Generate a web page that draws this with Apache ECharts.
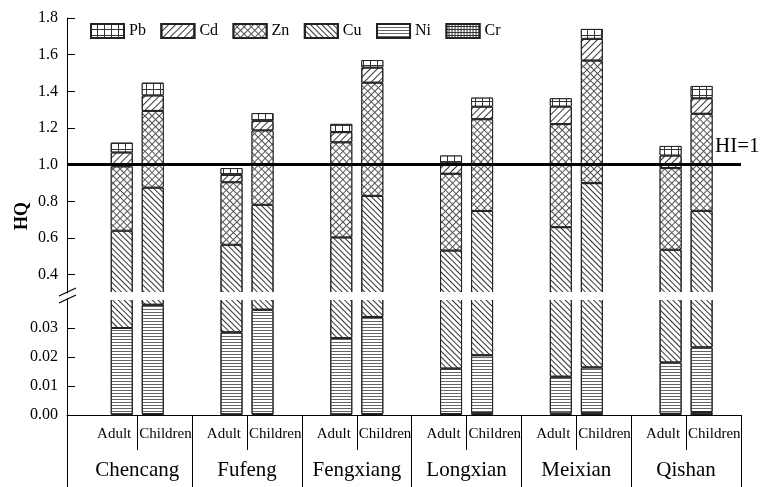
<!DOCTYPE html>
<html>
<head>
<meta charset="utf-8">
<script src="https://cdn.jsdelivr.net/npm/echarts@6/dist/echarts.min.js"></script>
<style>
  html, body { margin: 0; padding: 0; background: #fff; }
  #chart { width: 771px; height: 487px; }
</style>
</head>
<body>
<div id="chart"></div>
<script>
// Hazard quotients (HQ) of heavy metals by county and population group
const counties = ['Chencang', 'Fufeng', 'Fengxiang', 'Longxian', 'Meixian', 'Qishan'];
const groups = ['Adult', 'Children'];
const legendOrder = ['Pb', 'Cd', 'Zn', 'Cu', 'Ni', 'Cr'];
const stackOrder = ['Cr', 'Ni', 'Cu', 'Zn', 'Cd', 'Pb'];

const crAdult    = [0.0002, 0.0002, 0.0002, 0.0003, 0.0005, 0.0004];
const crChildren = [0.0003, 0.0003, 0.0003, 0.0006, 0.0006, 0.0010];
const niAdult    = [0.0298, 0.0283, 0.0263, 0.0157, 0.0127, 0.0177];
const niChildren = [0.0377, 0.0360, 0.0335, 0.0200, 0.0158, 0.0223];
const cuAdult    = [0.610, 0.535, 0.577, 0.516, 0.646, 0.518];
const cuChildren = [0.837, 0.745, 0.796, 0.727, 0.883, 0.725];
const znAdult    = [0.350, 0.340, 0.518, 0.418, 0.562, 0.445];
const znChildren = [0.418, 0.405, 0.617, 0.500, 0.668, 0.529];
const cdAdult    = [0.077, 0.041, 0.056, 0.058, 0.096, 0.069];
const cdChildren = [0.085, 0.053, 0.083, 0.069, 0.119, 0.085];
const pbAdult    = [0.053, 0.037, 0.045, 0.042, 0.045, 0.052];
const pbChildren = [0.069, 0.042, 0.041, 0.049, 0.054, 0.067];

// Broken value axis: upper part and lower part
const upperTicks = [0.4, 0.6, 0.8, 1.0, 1.2, 1.4, 1.6, 1.8];
const lowerTicks = [0.00, 0.01, 0.02, 0.03];
const HI = 1;

const values = {
  Adult:    { Cr: crAdult, Ni: niAdult, Cu: cuAdult, Zn: znAdult, Cd: cdAdult, Pb: pbAdult },
  Children: { Cr: crChildren, Ni: niChildren, Cu: cuChildren, Zn: znChildren, Cd: cdChildren, Pb: pbChildren }
};

const INK = '#222';
const FONT = '"Liberation Serif", "Times New Roman", serif';

// hatch patterns for each metal
const decals = {
  Pb: { symbol: 'rect', color: '#fff', backgroundColor: '#333', dashArrayX: [6, 1], dashArrayY: [5, 1], symbolSize: 1 },
  Cd: { symbol: 'rect', color: '#333', dashArrayX: [1, 0], dashArrayY: [1, 4], rotation: -Math.PI / 4, symbolSize: 1 },
  Zn: { symbol: 'rect', color: '#fff', backgroundColor: '#555', dashArrayX: [4, 1], dashArrayY: [4, 1], rotation: Math.PI / 4, symbolSize: 1 },
  Cu: { symbol: 'rect', color: '#333', dashArrayX: [1, 0], dashArrayY: [1, 3], rotation: Math.PI / 4, symbolSize: 1 },
  Ni: { symbol: 'rect', color: '#666', dashArrayX: [1, 0], dashArrayY: [1, 2], symbolSize: 1 },
  Cr: { symbol: 'rect', color: '#fff', backgroundColor: '#333', dashArrayX: [2, 1], dashArrayY: [2, 1], symbolSize: 1 }
};

const xMin = -0.64, xMax = 5.5;
const groupIdx = counties.map((c, i) => i);
const boundaries = counties.map((c, i) => i + 0.5);

function hiddenX(gridIndex) {
  return { type: 'value', gridIndex, min: xMin, max: xMax, show: false };
}

const series = [];
[0, 1].forEach(function (g) {
  groups.forEach(function (grp) {
    stackOrder.forEach(function (metal) {
      series.push({
        type: 'bar',
        name: metal,
        xAxisIndex: g,
        yAxisIndex: g,
        stack: g + '-' + grp,
        barWidth: 22,
        barGap: '41%',
        clip: true,
        // value first so that the stacked dimension is the HQ value
        dimensions: ['hq', 'county'],
        encode: { x: 1, y: 0 },
        itemStyle: { color: '#fff', borderColor: INK, borderWidth: 1, decal: decals[metal] },
        emphasis: { disabled: true },
        data: values[grp][metal].map((v, i) => [v, i])
      });
    });
  });
});
// HI = 1 reference line
series[0].markLine = {
  silent: true,
  symbol: ['none', 'none'],
  label: { show: false },
  lineStyle: { color: '#000', width: 3, type: 'solid' },
  data: [{ yAxis: HI }]
};

const option = {
  animation: false,
  backgroundColor: '#fff',
  textStyle: { fontFamily: FONT, color: '#000' },
  legend: {
    data: legendOrder,
    left: 90,
    top: 23,
    padding: 0,
    icon: 'rect',
    itemWidth: 33,
    itemHeight: 14,
    itemGap: 14.5,
    selectedMode: false,
    textStyle: { fontFamily: FONT, fontSize: 16, color: '#000' }
  },
  grid: [
    { left: 67, width: 674, top: 18, height: 275 },
    { left: 67, width: 674, top: 299, height: 116 },
    { left: 67, width: 674, top: 415, height: 72 }
  ],
  xAxis: [
    hiddenX(0),
    hiddenX(1),
    {
      type: 'value', gridIndex: 2, min: xMin, max: xMax, position: 'top',
      axisLine: { show: true, onZero: false, lineStyle: { color: '#000', width: 1 } },
      axisTick: { show: true, inside: true, length: 72, customValues: boundaries, lineStyle: { color: '#000' } },
      axisLabel: {
        show: true, inside: true, margin: 45, customValues: groupIdx,
        formatter: v => counties[Math.round(v)], fontFamily: FONT, fontSize: 21, color: '#000'
      },
      splitLine: { show: false }
    },
    {
      type: 'value', gridIndex: 2, min: xMin, max: xMax, position: 'top',
      axisLine: { show: false, onZero: false },
      axisTick: { show: true, inside: true, length: 35, customValues: groupIdx, lineStyle: { color: '#000' } },
      axisLabel: {
        show: true, inside: true, margin: 12, customValues: groupIdx, align: 'right',
        padding: [0, 6, 0, 0],
        formatter: () => groups[0], fontFamily: FONT, fontSize: 15, color: '#000'
      },
      splitLine: { show: false }
    },
    {
      type: 'value', gridIndex: 2, min: xMin, max: xMax, position: 'top',
      axisLine: { show: false, onZero: false },
      axisTick: { show: false },
      axisLabel: {
        show: true, inside: true, margin: 12, customValues: groupIdx, align: 'left',
        padding: [0, 0, 0, 2],
        formatter: () => groups[1], fontFamily: FONT, fontSize: 15, color: '#000'
      },
      splitLine: { show: false }
    }
  ],
  yAxis: [
    {
      type: 'value', gridIndex: 0, min: 0.3, max: 1.8,
      axisLine: { show: true, onZero: false, lineStyle: { color: '#000', width: 1 } },
      axisTick: { show: true, inside: true, length: 8, customValues: upperTicks, lineStyle: { color: '#000' } },
      axisLabel: { customValues: upperTicks, margin: 9, formatter: v => v.toFixed(1), fontFamily: FONT, fontSize: 16, color: '#000' },
      splitLine: { show: false }
    },
    {
      type: 'value', gridIndex: 1, min: 0, max: 0.04,
      axisLine: { show: true, onZero: false, lineStyle: { color: '#000', width: 1 } },
      axisTick: { show: true, inside: true, length: 8, customValues: lowerTicks, lineStyle: { color: '#000' } },
      axisLabel: { customValues: lowerTicks, margin: 9, formatter: v => v.toFixed(2), fontFamily: FONT, fontSize: 16, color: '#000' },
      splitLine: { show: false }
    },
    {
      type: 'value', gridIndex: 2, min: 0, max: 1,
      axisLine: { show: true, onZero: false, lineStyle: { color: '#000', width: 1 } },
      axisTick: { show: false },
      axisLabel: { show: false },
      splitLine: { show: false }
    }
  ],
  graphic: [
    {
      type: 'text', x: 22, y: 216, rotation: Math.PI / 2,
      style: { text: 'HQ', font: 'bold 18px ' + FONT, fill: '#000', textAlign: 'center', textVerticalAlign: 'middle' }
    },
    {
      type: 'text', x: 715, y: 136,
      style: { text: 'HI=' + HI, font: '21px ' + FONT, fill: '#000' }
    },
    // open gap of the axis break across the bars
    { type: 'rect', z: 100, shape: { x: 78, y: 292, width: 664, height: 8 }, style: { fill: '#fff' } },
    // axis break marks
    { type: 'line', z: 101, shape: { x1: 59, y1: 296, x2: 76, y2: 288 }, style: { stroke: '#000', lineWidth: 1.2 } },
    { type: 'line', z: 101, shape: { x1: 59, y1: 303, x2: 76, y2: 295 }, style: { stroke: '#000', lineWidth: 1.2 } }
  ],
  series: series
};

const chart = echarts.init(document.getElementById('chart'), null, { renderer: 'canvas' });
chart.setOption(option);
</script>
</body>
</html>
